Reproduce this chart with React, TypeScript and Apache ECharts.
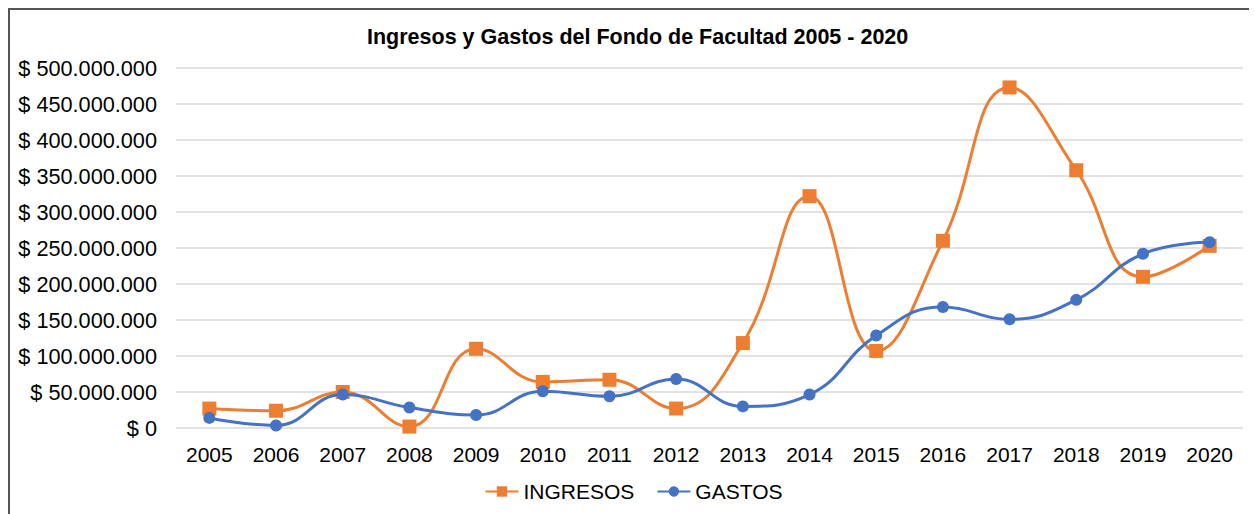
import React, { useEffect, useRef } from "react";
import * as echarts from "echarts";

const years = ["2005","2006","2007","2008","2009","2010","2011","2012","2013","2014","2015","2016","2017","2018","2019","2020"];
const ingresos = [27, 24, 50, 2, 110, 64, 67, 27, 118, 322, 107, 260, 473, 358, 210, 253].map((v) => v * 1000000);
const gastos = [14, 3.5, 46.5, 28.5, 18, 51, 44, 68, 30, 46.5, 128.5, 168, 151, 178, 242, 258].map((v) => v * 1000000);

const titleText = "Ingresos y Gastos del Fondo de Facultad 2005 - 2020";
const FONT = "'Liberation Sans', Arial, sans-serif";

function fmt(v: number): string {
  const s = Math.round(v).toString().replace(/\B(?=(\d{3})+(?!\d))/g, ".");
  return "$ " + s;
}

export default function App() {
  const ref = useRef<HTMLDivElement>(null);
  useEffect(() => {
    if (!ref.current) return;
    const chart = echarts.init(ref.current, undefined, { renderer: "svg" });
    chart.setOption({
      animation: false,
      backgroundColor: "#ffffff",
      title: {
        text: titleText,
        left: 352,
        top: 11,
        textStyle: { fontFamily: FONT, fontSize: 21.5, fontWeight: "bold", color: "#000" },
      },
      legend: {
        bottom: 7,
        left: "center",
        itemWidth: 33,
        itemHeight: 13,
        itemGap: 22,
        textStyle: { fontFamily: FONT, fontSize: 21, color: "#000" },
        data: ["INGRESOS", "GASTOS"],
      },
      grid: { left: 166, right: 14, top: 58, bottom: 86, containLabel: false },
      xAxis: {
        type: "category",
        data: years,
        boundaryGap: true,
        axisLine: { show: false },
        axisTick: { show: false },
        axisLabel: { fontFamily: FONT, fontSize: 21, color: "#000", margin: 16 },
      },
      yAxis: {
        type: "value",
        min: 0,
        max: 500000000,
        interval: 50000000,
        axisLine: { show: false },
        axisTick: { show: false },
        splitLine: { lineStyle: { color: "#D9D9D9", width: 1.5 } },
        axisLabel: {
          fontFamily: FONT,
          fontSize: 21.7,
          color: "#000",
          margin: 19,
          formatter: (v: number) => fmt(v),
        },
      },
      series: [
        {
          name: "INGRESOS",
          type: "line",
          data: ingresos,
          smooth: 0.45,
          symbol: "rect",
          symbolSize: 14,
          lineStyle: { color: "#ED7D31", width: 3 },
          itemStyle: { color: "#ED7D31" },
          z: 2,
        },
        {
          name: "GASTOS",
          type: "line",
          data: gastos,
          smooth: 0.45,
          symbol: "circle",
          symbolSize: 12,
          lineStyle: { color: "#4472C4", width: 3 },
          itemStyle: { color: "#4472C4" },
          z: 3,
        },
      ],
    });
    return () => chart.dispose();
  }, []);

  return (
    <div
      style={{
        width: 1249,
        height: 506,
        borderLeft: "2px solid #555555",
        borderTop: "2px solid #555555",
        boxSizing: "border-box",
        overflow: "hidden",
      }}
    >
      <div ref={ref} style={{ width: 1247, height: 504 }} />
    </div>
  );
}
